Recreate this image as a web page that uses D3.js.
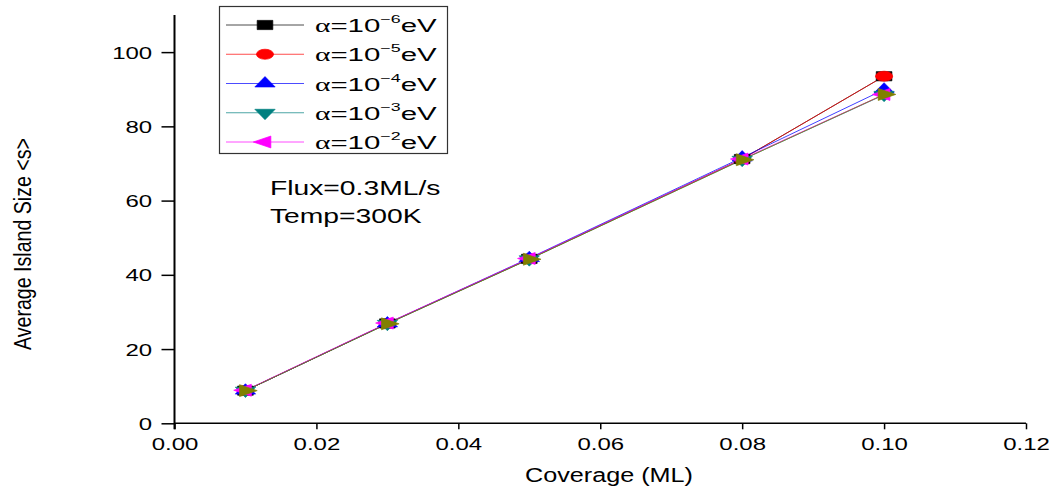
<!DOCTYPE html>
<html>
<head>
<meta charset="utf-8">
<script src="https://cdn.jsdelivr.net/npm/d3@7"></script>
<style>
  body { margin: 0; background: #ffffff; }
  svg { display: block; }
  text { font-family: "Liberation Sans", Arial, sans-serif; fill: #000; }
</style>
</head>
<body>
<svg id="chart" width="1055" height="495"></svg>
<script>
// Coverage (ML) at which the average island size was sampled
const coverage = [0.01, 0.03, 0.05, 0.08, 0.10];

// Average island size <s> for each interaction strength alpha
const sizeAlpha6 = [8.8, 26.9, 44.3, 71.2, 93.5];
const sizeAlpha5 = [8.8, 26.9, 44.3, 71.2, 93.5];
const sizeAlpha4 = [8.8, 26.9, 44.5, 71.6, 89.9];
const sizeAlpha3 = [8.8, 26.8, 44.2, 71.0, 88.5];
const sizeAlpha2 = [8.9, 27.0, 44.4, 71.2, 88.6];
const sizeExtra  = [8.8, 26.8, 44.2, 71.0, 88.6];

// Legend exponents (alpha = 10^exp eV)
const legendExponents = [-6, -5, -4, -3, -2];

// Axis ticks
const xMajorTicks = [0.00, 0.02, 0.04, 0.06, 0.08, 0.10, 0.12];
const xMinorTicks = [0.01, 0.03, 0.05, 0.07, 0.09, 0.11];
const yMajorTicks = [0, 20, 40, 60, 80, 100];
const yMinorTicks = [10, 30, 50, 70, 90];

const annotations = ["Flux=0.3ML/s", "Temp=300K"];

// Series styling (order = drawing order)
const series = [
  { values: sizeAlpha6, color: "#000000", shape: "square", exp: legendExponents[0] },
  { values: sizeAlpha5, color: "#ff0000", shape: "circle", exp: legendExponents[1] },
  { values: sizeAlpha4, color: "#0000ff", shape: "up",     exp: legendExponents[2] },
  { values: sizeAlpha3, color: "#008080", shape: "down",   exp: legendExponents[3] },
  { values: sizeAlpha2, color: "#ff00ff", shape: "left",   exp: legendExponents[4] },
  { values: sizeExtra,  color: "#808000", shape: "right",  exp: null }
];

const svg = d3.select("#chart");
const W = 1055, H = 495;
svg.append("rect").attr("width", W).attr("height", H).attr("fill", "#fff");

// Text in this figure is set wide; stretch glyphs horizontally
const SX = 1.5;
const MX = 1.7; // horizontal stretch of markers

const x = d3.scaleLinear().domain([0, 0.12]).range([174.5, 1026]);
const y = d3.scaleLinear().domain([0, 110]).range([423.3, 15]);

// ---- marker helper ----
function markerPath(shape) {
  const map = {
    square: d3.symbol(d3.symbolSquare, 85),
    circle: d3.symbol(d3.symbolCircle, 80),
    up:     d3.symbol(d3.symbolTriangle, 62),
    down:   d3.symbol(d3.symbolTriangle, 62),
    left:   d3.symbol(d3.symbolTriangle, 62),
    right:  d3.symbol(d3.symbolTriangle, 62)
  };
  return map[shape]();
}
const rot = { square: 0, circle: 0, up: 0, down: 180, left: -90, right: 90 };

function drawMarker(g, cx, cy, s) {
  g.append("path")
    .attr("d", markerPath(s.shape))
    .attr("transform", `translate(${cx},${cy}) scale(${MX},1) rotate(${rot[s.shape]})`)
    .attr("fill", s.color)
    .attr("stroke", s.color)
    .attr("stroke-width", 0.5);
}

// ---- axes ----
const yAxisG = svg.append("g").attr("transform", `translate(${x(0)},0)`);
yAxisG.call(d3.axisLeft(y).tickValues(yMinorTicks).tickSize(8).tickFormat(""));
yAxisG.call(d3.axisLeft(y).tickValues(yMajorTicks).tickSize(13).tickPadding(11).tickFormat(d3.format("d")));
yAxisG.selectAll(".domain").attr("stroke", "#000").attr("stroke-width", 2).attr("d", `M0,${y(0) + 6}V${y(110)}`);
yAxisG.selectAll(".tick line").attr("stroke", "#000").attr("stroke-width", 1.5);
yAxisG.selectAll(".tick text")
  .attr("font-size", 16.5)
  .attr("x", -23 / SX)
  .attr("transform", `scale(${SX * 0.97},1)`)
  .attr("dy", "0.36em");

const xAxisG = svg.append("g").attr("transform", `translate(0,${y(0)})`);
xAxisG.call(d3.axisBottom(x).tickValues(xMinorTicks).tickSize(4).tickFormat(""));
xAxisG.call(d3.axisBottom(x).tickValues(xMajorTicks).tickSize(6).tickPadding(9).tickFormat(d3.format(".2f")));
xAxisG.selectAll(".domain").attr("stroke", "#000").attr("stroke-width", 1.5).attr("d", `M${x(0)},0H${x(0.12)}`);
xAxisG.selectAll(".tick line").attr("stroke", "#000").attr("stroke-width", 1.5);
xAxisG.selectAll(".tick text")
  .attr("font-size", 16.5)
  .attr("transform", `scale(${SX * 0.97},1)`);
svg.selectAll(".tick text").attr("fill", "#000").attr("font-family", '"Liberation Sans", Arial, sans-serif');

// ---- axis titles ----
svg.append("text")
  .attr("transform", `translate(609,482) scale(${SX * 0.8},1)`)
  .attr("text-anchor", "middle")
  .attr("font-size", 21)
  .text("Coverage (ML)");

svg.append("text")
  .attr("transform", "translate(31,244) rotate(-90) scale(0.8,1)")
  .attr("text-anchor", "middle")
  .attr("font-family", '"Liberation Sans", Arial, sans-serif')
  .attr("font-size", 24.5)
  .text("Average Island Size <s>");

// ---- annotations ----
const annY = d3.scaleLinear().domain([0, 1]).range([195, 223]);
annotations.forEach((t, i) => {
  svg.append("text")
    .attr("transform", `translate(270,${annY(i)}) scale(1.45,1)`)
    .attr("font-size", 19.5)
    .text(t);
});

// ---- lines and markers ----
const line = d3.line().x((d, i) => x(coverage[i])).y(d => y(d));
const plot = svg.append("g");
series.forEach(s => {
  plot.append("path")
    .attr("d", line(s.values))
    .attr("fill", "none")
    .attr("stroke", s.color)
    .attr("stroke-opacity", 0.75)
    .attr("stroke-width", 1);
});
series.forEach(s => {
  const g = plot.append("g");
  s.values.forEach((v, i) => drawMarker(g, x(coverage[i]), y(v), s));
});

// ---- legend ----
const legendSeries = series.filter(s => s.exp !== null);
const legend = svg.append("g");
legend.append("rect")
  .attr("x", 219.5).attr("y", 6.5)
  .attr("width", 228).attr("height", 147)
  .attr("fill", "#fff")
  .attr("stroke", "#333").attr("stroke-width", 1.2);
const rowY = d3.scaleLinear().domain([0, 4]).range([25, 142]);
legendSeries.forEach((s, i) => {
  const yy = rowY(i);
  legend.append("line")
    .attr("x1", 226).attr("x2", 304)
    .attr("y1", yy).attr("y2", yy)
    .attr("stroke", s.color).attr("stroke-opacity", 0.7).attr("stroke-width", 1);
  drawMarker(legend, 265, yy, s);
  const t = legend.append("text")
    .attr("transform", `translate(315,${yy + 7}) scale(1.55,1)`)
    .attr("font-size", 19);
  t.append("tspan").attr("font-family", '"Liberation Serif", "Times New Roman", serif').text("α");
  t.append("tspan").text("=10");
  t.append("tspan").attr("font-size", 11.5).attr("dy", -9).text("\u2212" + Math.abs(s.exp));
  t.append("tspan").attr("dy", 9).text("eV");
});
</script>
</body>
</html>
